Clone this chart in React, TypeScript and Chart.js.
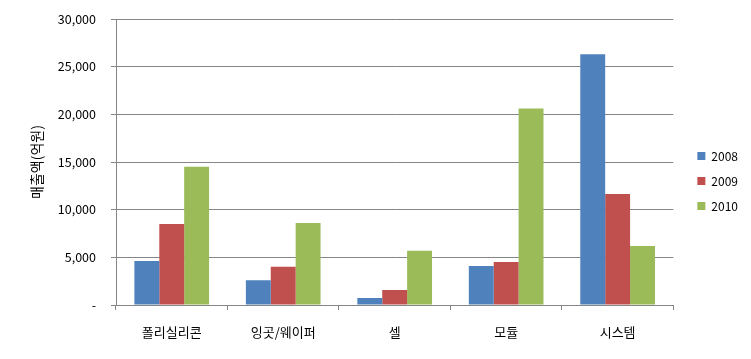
import React, { useEffect, useRef } from "react";
import { Chart, registerables } from "chart.js";

Chart.register(...registerables);

const categories = ["폴리실리콘", "잉곳/웨이퍼", "셀", "모듈", "시스템"];
const seriesNames = ["2008", "2009", "2010"];
const values2008 = [4620, 2600, 730, 4100, 26300];
const values2009 = [8500, 4000, 1570, 4500, 11650];
const values2010 = [14500, 8600, 5700, 20600, 6200];
const colors = ["#4F81BD", "#C0504D", "#9BBB59"];
const yTicks = [0, 5000, 10000, 15000, 20000, 25000, 30000];
const yTitle = "매출액(억원)";

const FONT = "'Noto Sans CJK KR', 'Noto Sans', sans-serif";

const legendShift = {
  id: "legendShift",
  afterLayout(chart: any) {
    const l = chart.legend;
    if (!l) return;
    l.left += 11;
    l.right += 11;
    l.top -= 8;
    l.bottom -= 8;
  },
};

export default function App() {
  const ref = useRef<HTMLCanvasElement | null>(null);
  useEffect(() => {
    if (!ref.current) return;
    const data = [values2008, values2009, values2010];
    const chart = new Chart(ref.current, {
      type: "bar",
      data: {
        labels: categories,
        datasets: seriesNames.map((n, i) => ({
          label: n,
          data: data[i],
          backgroundColor: colors[i],
          borderWidth: 0,
          barPercentage: 1,
          categoryPercentage: 0.67,
        })),
      },
      plugins: [legendShift],
      options: {
        animation: false,
        responsive: false,
        maintainAspectRatio: false,
        layout: { padding: { top: 19, right: 14, bottom: 0, left: 0 } },
        plugins: {
          tooltip: { enabled: false },
          legend: {
            position: "right",
            align: "center",
            labels: {
              boxWidth: 8,
              boxHeight: 8,
              padding: 13,
              color: "#000",
              font: { family: FONT, size: 12 },
            },
          },
        },
        scales: {
          x: {
            grid: {
              offset: true,
              drawOnChartArea: false,
              drawTicks: true,
              tickLength: 5,
              color: "#868686",
            },
            border: { color: "#868686", width: 1 },
            ticks: {
              color: "#000",
              padding: 14,
              font: { family: FONT, size: 13 },
            },
            afterFit: (s: any) => {
              s.height = 54;
            },
          },
          y: {
            min: 0,
            max: 30000,
            afterBuildTicks: (s: any) => {
              s.ticks = yTicks.map((v) => ({ value: v }));
            },
            grid: {
              color: "#868686",
              tickLength: 5,
              drawTicks: true,
            },
            border: { color: "#868686", width: 1 },
            ticks: {
              color: "#000",
              padding: 15,
              font: { family: FONT, size: 12.5 },
              callback: (v: any) =>
                Number(v) === 0 ? "-" : Number(v).toLocaleString("en-US"),
            },
            title: {
              display: true,
              text: yTitle,
              color: "#000",
              font: { family: FONT, size: 14 },
              padding: { top: 28, bottom: 0 },
            },
            afterFit: (s: any) => {
              s.width = 116;
              s.paddingTop = 7;
              s.paddingBottom = 7;
            },
          },
        },
      },
    });
    return () => chart.destroy();
  }, []);
  return (
    <div style={{ position: "fixed", left: 0, top: 0, width: 751, height: 359, background: "#fff" }}>
      <canvas ref={ref} width={751} height={359} style={{ width: 751, height: 359 }} />
    </div>
  );
}
